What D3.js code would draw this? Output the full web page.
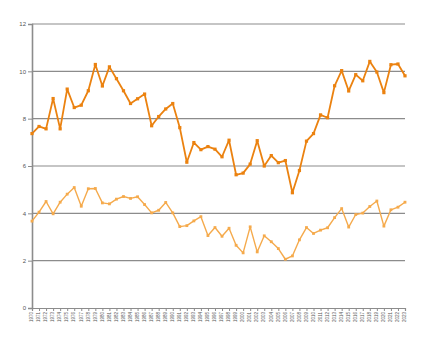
<!DOCTYPE html>
<html>
<head>
<meta charset="utf-8">
<script src="https://cdn.jsdelivr.net/npm/d3@7"></script>
<style>
  body { margin: 0; background: #fff; }
  #chart { width: 430px; height: 354px; }
  .tick text { fill: #555; font-family: "Liberation Sans", Arial, sans-serif; }
</style>
</head>
<body>
<div id="chart"></div>
<script>
// Years and the two series
const years = d3.range(1970, 2024);
const seriesA = [7.37, 7.67, 7.57, 8.85, 7.57, 9.25, 8.47, 8.57, 9.18, 10.29,
  9.38, 10.19, 9.69, 9.18, 8.64, 8.84, 9.04, 7.70, 8.09, 8.41,
  8.64, 7.62, 6.16, 6.99, 6.69, 6.82, 6.71, 6.39, 7.09, 5.63,
  5.70, 6.08, 7.07, 6.00, 6.44, 6.14, 6.23, 4.87, 5.81, 7.05,
  7.37, 8.16, 8.04, 9.39, 10.03, 9.17, 9.86, 9.60, 10.42, 9.97,
  9.10, 10.28, 10.31, 9.81];
const seriesB = [3.67, 4.05, 4.50, 3.98, 4.47, 4.81, 5.09, 4.30, 5.04, 5.05,
  4.44, 4.40, 4.60, 4.71, 4.63, 4.70, 4.37, 4.02, 4.13, 4.46,
  4.02, 3.44, 3.48, 3.68, 3.86, 3.06, 3.40, 3.03, 3.37, 2.65,
  2.33, 3.43, 2.37, 3.05, 2.80, 2.51, 2.06, 2.20, 2.88, 3.40,
  3.15, 3.29, 3.39, 3.82, 4.20, 3.42, 3.95, 4.01, 4.29, 4.52,
  3.46, 4.15, 4.26, 4.47];
const yTicks = [0, 2, 4, 6, 8, 10, 12];

const margin = { top: 24, right: 25, bottom: 46, left: 32 };
const width = 430 - margin.left - margin.right;
const height = 354 - margin.top - margin.bottom;

const svg = d3.select("#chart")
    .append("svg")
    .attr("width", 430)
    .attr("height", 354)
    .append("g")
    .attr("transform", `translate(${margin.left},${margin.top})`);

const x = d3.scalePoint().domain(years).range([0, width]);
const y = d3.scaleLinear().domain([0, 12]).range([height, 0]);

// Gridlines
svg.append("g")
    .selectAll("line")
    .data(yTicks.filter(d => d > 0))
    .join("line")
    .attr("x1", 0)
    .attr("x2", width)
    .attr("y1", d => y(d))
    .attr("y2", d => y(d))
    .attr("stroke", "#8c8c8c")
    .attr("stroke-width", 1.2);

// Y axis
const yAxis = svg.append("g")
    .call(d3.axisLeft(y).tickValues(yTicks).tickSize(4).tickPadding(2));
yAxis.select(".domain").attr("stroke", "#8c8c8c").attr("stroke-width", 1.6);
yAxis.selectAll(".tick line").attr("stroke", "#8c8c8c");
yAxis.selectAll(".tick text").style("font-size", "6px");

// X axis
const xAxis = svg.append("g")
    .attr("transform", `translate(0,${height})`)
    .call(d3.axisBottom(x).tickSize(3).tickPadding(2));
xAxis.select(".domain").attr("stroke", "#8c8c8c").attr("stroke-width", 1.2);
xAxis.selectAll(".tick line").attr("stroke", "#8c8c8c");
xAxis.selectAll(".tick text")
    .style("font-size", "4.5px")
    .attr("text-anchor", "end")
    .attr("transform", "rotate(-90)")
    .attr("dx", "-4px")
    .attr("dy", "-0.1em")
    .attr("y", 0)
    .attr("x", 0)
    .attr("dominant-baseline", "middle");

// Lines
const line = d3.line()
    .x((d, i) => x(years[i]))
    .y(d => y(d));

function drawSeries(values, color, w, r) {
    svg.append("path")
        .datum(values)
        .attr("fill", "none")
        .attr("stroke", color)
        .attr("stroke-width", w)
        .attr("stroke-linejoin", "round")
        .attr("d", line);
    svg.append("g")
        .selectAll("rect")
        .data(values)
        .join("rect")
        .attr("x", (d, i) => x(years[i]) - r)
        .attr("y", d => y(d) - r)
        .attr("width", r * 2)
        .attr("height", r * 2)
        .attr("fill", color);
}

drawSeries(seriesB, "#f5aa4c", 1.4, 1.4);
drawSeries(seriesA, "#eb8210", 1.8, 1.6);
</script>
</body>
</html>
